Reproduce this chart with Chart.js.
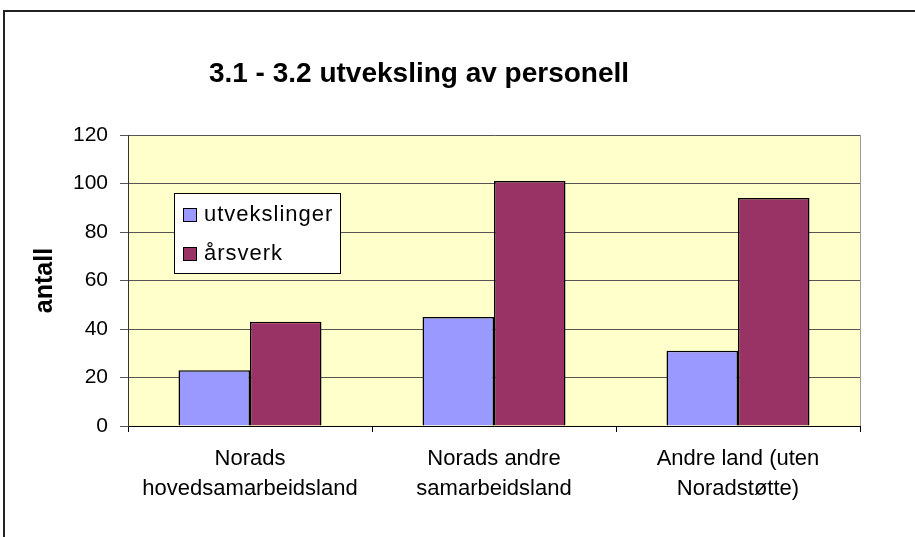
<!DOCTYPE html>
<html>
<head>
<meta charset="utf-8">
<script src="https://cdn.jsdelivr.net/npm/chart.js@4"></script>
<style>
  html, body { margin: 0; padding: 0; background: #fff; }
  #wrap { width: 915px; height: 537px; position: relative; }
</style>
</head>
<body>
<div id="wrap"><canvas id="personellChart"></canvas></div>
<script>
const categories = [
    ['Norads', 'hovedsamarbeidsland'],
    ['Norads andre', 'samarbeidsland'],
    ['Andre land (uten', 'Noradstøtte)']
];
const utvekslinger = [23, 45, 31];
const arsverk = [43, 101, 94];
const yMin = 0, yMax = 120, yStep = 20;
const chartTitle = '3.1 - 3.2 utveksling av personell';
const yTitle = 'antall';

const FONT = '"Liberation Sans", Arial, sans-serif';

// background, frame, title and the boxed legend inside the plot
const excelLook = {
    id: 'excelLook',
    beforeDraw(chart) {
        const { ctx, chartArea: a } = chart;
        ctx.save();
        ctx.fillStyle = '#fff';
        ctx.fillRect(0, 0, chart.width, chart.height);
        ctx.fillStyle = '#ffffcc';
        ctx.fillRect(a.left, a.top, a.right - a.left, a.bottom - a.top);
        ctx.strokeStyle = '#999';
        ctx.lineWidth = 1;
        ctx.beginPath();
        ctx.moveTo(a.right + 0.5, a.top);
        ctx.lineTo(a.right + 0.5, a.bottom);
        ctx.stroke();
        // outer chart frame
        ctx.fillStyle = '#222';
        ctx.fillRect(3, 10, 2, chart.height);
        ctx.fillRect(3, 10, chart.width, 2);
        ctx.restore();
    },
    afterDraw(chart) {
        const { ctx } = chart;
        ctx.save();
        ctx.fillStyle = '#000';
        ctx.font = 'bold 28px ' + FONT;
        ctx.textAlign = 'center';
        ctx.textBaseline = 'alphabetic';
        ctx.fillText(chartTitle, 419, 82);

        // legend box
        ctx.fillStyle = '#fff';
        ctx.fillRect(174, 193, 166, 80);
        ctx.strokeStyle = '#000';
        ctx.lineWidth = 1;
        ctx.strokeRect(174.5, 193.5, 166, 80);
        ctx.font = '22px ' + FONT;
        ctx.letterSpacing = '1px';
        ctx.textAlign = 'left';
        chart.data.datasets.forEach((ds, i) => {
            const cy = 215 + i * 39;
            ctx.fillStyle = ds.backgroundColor;
            ctx.fillRect(183, cy - 7, 13, 13);
            ctx.strokeRect(183.5, cy - 6.5, 13, 13);
            ctx.fillStyle = '#000';
            ctx.textBaseline = 'middle';
            ctx.fillText(ds.label, 204, cy);
        });
        ctx.restore();
    }
};

const ctx = document.getElementById('personellChart').getContext('2d');

new Chart(ctx, {
    type: 'bar',
    data: {
        labels: categories,
        datasets: [{
            label: 'utvekslinger',
            data: utvekslinger,
            backgroundColor: '#9999ff',
            borderColor: '#000',
            borderWidth: 1.5
        }, {
            label: 'årsverk',
            data: arsverk,
            backgroundColor: '#993366',
            borderColor: '#000',
            borderWidth: 1.5
        }]
    },
    options: {
        responsive: true,
        maintainAspectRatio: false,
        animation: false,
        events: [],
        categoryPercentage: 0.586,
        barPercentage: 1,
        layout: {
            padding: { top: 135, right: 55, bottom: 0, left: 0 }
        },
        plugins: {
            legend: { display: false },
            tooltip: { enabled: false }
        },
        scales: {
            x: {
                afterFit: (scale) => { scale.height = 111; },
                grid: {
                    drawOnChartArea: false,
                    drawTicks: true,
                    tickLength: 6,
                    color: '#000'
                },
                border: { color: '#000', width: 1 },
                ticks: {
                    color: '#000',
                    padding: 12,
                    font: { family: FONT, size: 22, lineHeight: 1.36 }
                }
            },
            y: {
                min: yMin,
                max: yMax,
                afterFit: (scale) => { scale.width = 128; },
                grid: {
                    color: '#555',
                    lineWidth: 1,
                    drawTicks: true,
                    tickLength: 8
                },
                border: { color: '#333', width: 1 },
                ticks: {
                    stepSize: yStep,
                    color: '#000',
                    padding: 12,
                    font: { family: FONT, size: 21 }
                },
                title: {
                    display: true,
                    text: yTitle,
                    color: '#000',
                    padding: { top: 30, bottom: 0 },
                    font: { family: FONT, size: 25, weight: 'bold' }
                }
            }
        }
    },
    plugins: [excelLook]
});
</script>
</body>
</html>
